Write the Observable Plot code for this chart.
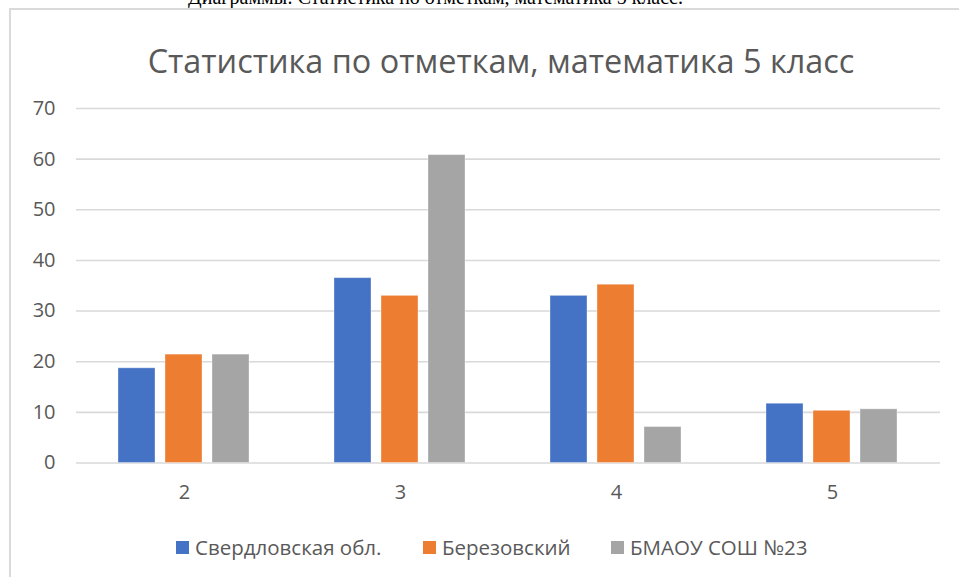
<!DOCTYPE html>
<html>
<head>
<meta charset="utf-8">
<script src="https://cdn.jsdelivr.net/npm/d3@7"></script>
<script src="https://cdn.jsdelivr.net/npm/@observablehq/plot@0.6"></script>
<style>
  html, body { margin: 0; padding: 0; background: #fff; }
  body { width: 959px; height: 577px; position: relative; overflow: hidden; font-family: "Open Sans", sans-serif; }
  #doctext { position: absolute; right: 276px; top: -13px; white-space: nowrap; font-family: "Liberation Serif", serif; font-size: 20px; line-height: 1; color: #000; }
  #frame { position: absolute; left: 9px; top: 8px; width: 1000px; height: 567px; border: 2px solid #dadada; }
  #title { position: absolute; left: 0; width: 1002px; text-align: center; top: 44px; font-size: 30px; line-height: 1; color: #595959; white-space: nowrap; }
  #title span { display: inline-block; }
  #chart { position: absolute; left: 0; top: 90px; }
  .leg { position: absolute; top: 534px; font-size: 20.5px; line-height: 26px; color: #595959; white-space: nowrap; }
  .leg i { position: absolute; left: 0; top: 7px; width: 13px; height: 13px; }
  .leg span { position: absolute; left: 19px; top: 0; }
</style>
</head>
<body>
<div id="doctext">Диаграммы: Статистика по отметкам, математика 5 класс.</div>
<div id="frame"></div>
<div id="title"><span id="titletext">Статистика по отметкам, математика 5 класс</span></div>
<div id="chart"></div>
<div id="legend"></div>
<script>
const grades = ["2", "3", "4", "5"];
const series = ["Свердловская обл.", "Березовский", "БМАОУ СОШ №23"];
const sverdlovsk = [18.7, 36.5, 33.0, 11.7];
const berezovsky = [21.4, 33.0, 35.2, 10.3];
const school = [21.4, 60.8, 7.1, 10.6];
const colors = ["#4472C4", "#ED7D31", "#A5A5A5"];
const yTicks = [0, 10, 20, 30, 40, 50, 60, 70];

const valuesBySeries = [sverdlovsk, berezovsky, school];
const data = [];
grades.forEach((g, i) => {
  series.forEach((s, j) => data.push({grade: g, series: s, value: valuesBySeries[j][i]}));
});

// fit title width (~707px) like the reference
const tt = document.getElementById("titletext");
const targetW = 707;
let fs = 30;
document.getElementById("title").style.fontSize = fs + "px";
const w0 = tt.getBoundingClientRect().width;
if (w0 > 0) {
  fs = fs * targetW / w0;
  document.getElementById("title").style.fontSize = fs.toFixed(2) + "px";
}

const chart = Plot.plot({
  width: 959,
  height: 430,
  marginLeft: 74,
  marginRight: 18,
  marginTop: 18,
  marginBottom: 57.5,
  style: {fontFamily: "Open Sans, sans-serif", fontSize: "20px", color: "#595959", background: "transparent"},
  fx: {domain: grades, padding: 0, axis: "bottom", tickSize: 0, tickPadding: 22, label: null},
  x: {domain: series, axis: null, paddingInner: 0.208, paddingOuter: 0.862},
  y: {domain: [0, 70], ticks: yTicks, tickSize: 0, tickPadding: 21, label: null},
  color: {domain: series, range: colors},
  marks: [
    Plot.ruleY(yTicks, {stroke: "#d9d9d9", strokeWidth: 1.6}),
    Plot.barY(data, {fx: "grade", x: "series", y: "value", fill: "series", stroke: "#ffffff", strokeOpacity: 0.35, strokeWidth: 1})
  ]
});
document.getElementById("chart").appendChild(chart);

// legend
const legendX = [176, 423, 611];
const legend = document.getElementById("legend");
series.forEach((s, j) => {
  const d = document.createElement("div");
  d.className = "leg";
  d.style.left = legendX[j] + "px";
  const sw = document.createElement("i");
  sw.style.background = colors[j];
  const t = document.createElement("span");
  t.textContent = s;
  d.appendChild(sw);
  d.appendChild(t);
  legend.appendChild(d);
});
</script>
</body>
</html>
